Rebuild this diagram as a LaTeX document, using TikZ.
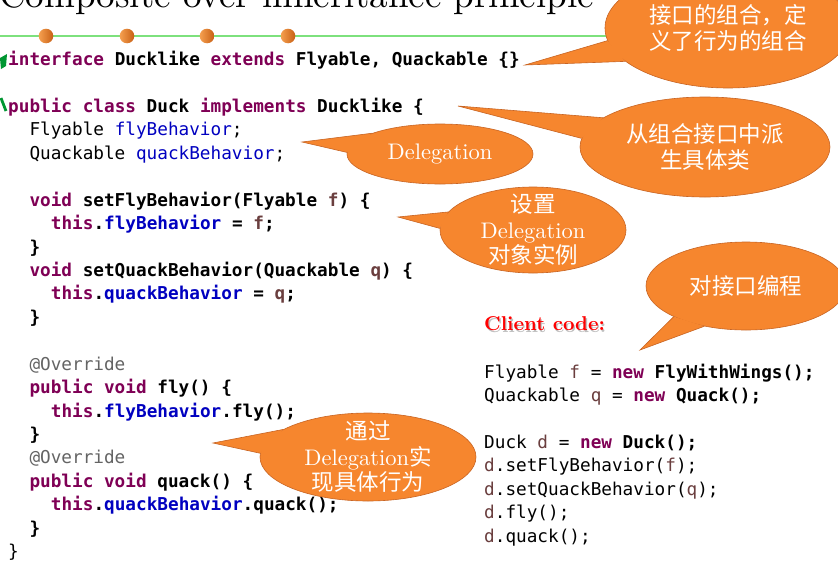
\documentclass[tikz,border=0pt]{standalone}
\usepackage{fontspec}
\usetikzlibrary{shapes.geometric}
\newfontfamily\cjk{Noto Sans CJK SC}
\newfontfamily\lmten{lmroman10-regular.otf}[BoldFont=lmroman10-bold.otf]
\setmonofont{DejaVu Sans Mono}
\definecolor{kw}{RGB}{127,0,85}
\definecolor{fld}{RGB}{0,0,192}
\definecolor{lv}{RGB}{106,62,62}
\definecolor{annc}{RGB}{100,100,100}
\definecolor{bub}{RGB}{246,134,46}
\definecolor{bubline}{RGB}{200,100,35}
\definecolor{grn}{RGB}{125,225,125}
\definecolor{tickgreen}{RGB}{0,150,50}
\definecolor{dotl}{RGB}{245,160,80}
\definecolor{dotd}{RGB}{200,95,20}
\newcommand\jkw[1]{\textcolor{kw}{\bfseries #1}}
\newcommand\jfld[1]{\textcolor{fld}{#1}}
\newcommand\jvar[1]{\textcolor{lv}{#1}}
\newcommand\jann[1]{\textcolor{annc}{#1}}
\tikzset{
  code/.style={anchor=base west, inner sep=0pt, font=\ttfamily\fontsize{17.7}{23.4}\selectfont},
  codeb/.style={anchor=base west, inner sep=0pt, font=\ttfamily\bfseries\fontsize{17.7}{23.4}\selectfont},
  bubble/.style={ellipse, fill=bub, draw=bubline, line width=0.6pt, text=white,
    inner sep=-10pt, align=center, font=\lmten\fontsize{22.5}{25.5}\selectfont},
  wedgeline/.style={draw=bubline, line width=0.6pt},
  dotball/.style={left color=dotl, right color=dotd},
}
\begin{document}
\begin{tikzpicture}[x=1pt,y=-1pt]
\useasboundingbox (0,0) rectangle (838,562);
\fill[white] (0,0) rectangle (838,562);
% title and rule
\node[anchor=base west, inner sep=0pt, font=\lmten\fontsize{37}{40}\selectfont] (title) at (-1,7) {Composite over inheritance principle};
\draw[grn, line width=1.5pt] (0,36) -- (620,36);
\foreach \x in {46,127,207,288} \shade[dotball] (\x,36) circle[radius=7.3pt];
% green marks
\fill[tickgreen] (0,58) -- (7,54) -- (6,66) -- (1,69) -- cycle;
\draw[tickgreen, line width=2.8pt] (1,98) -- (6,111);
% code
\node[codeb] (l0) at (8,65.5) {\jkw{interface} Ducklike \jkw{extends} Flyable, Quackable \{\}};
\node[codeb] (l2) at (8,112.4) {\jkw{public} \jkw{class} Duck \jkw{implements} Ducklike \{};
\node[code] (l3) at (29.3,135.8) {Flyable \jfld{flyBehavior};};
\node[code] (l4) at (29.3,159.2) {Quackable \jfld{quackBehavior};};
\node[codeb] (l6) at (29.3,206.1) {\jkw{void} setFlyBehavior(Flyable \jvar{f}) \{};
\node[codeb] (l7) at (50.7,229.5) {\jkw{this}.\jfld{flyBehavior} = \jvar{f};};
\node[codeb] (l8) at (29.3,253.0) {\}};
\node[codeb] (l9) at (29.3,276.4) {\jkw{void} setQuackBehavior(Quackable \jvar{q}) \{};
\node[codeb] (l10) at (50.7,299.8) {\jkw{this}.\jfld{quackBehavior} = \jvar{q};};
\node[codeb] (l11) at (29.3,323.2) {\}};
\node[code] (l13) at (29.3,370.1) {\jann{@Override}};
\node[codeb] (l14) at (29.3,393.5) {\jkw{public} \jkw{void} fly() \{};
\node[codeb] (l15) at (50.7,417.0) {\jkw{this}.\jfld{flyBehavior}.fly();};
\node[codeb] (l16) at (29.3,440.4) {\}};
\node[code] (l17) at (29.3,463.8) {\jann{@Override}};
\node[codeb] (l18) at (29.3,487.2) {\jkw{public} \jkw{void} quack() \{};
\node[codeb] (l19) at (50.7,510.7) {\jkw{this}.\jfld{quackBehavior}.quack();};
\node[codeb] (l20) at (29.3,534.1) {\}};
\node[code] (l21) at (8,557.5) {\}};
% client code
\node[anchor=base west, inner sep=0pt, text=black, opacity=0.25, font=\lmten\bfseries\fontsize{20}{24}\selectfont] (ccs) at (485.3,332) {Client code:};
\node[anchor=base west, inner sep=0pt, text=red, font=\lmten\bfseries\fontsize{20}{24}\selectfont] (cc) at (484,330.7) {Client code:};
\node[code] (c0) at (484,378.3) {Flyable \jvar{f} = \jkw{new} \textbf{FlyWithWings();}};
\node[code] (c1) at (484,401.7) {Quackable \jvar{q} = \jkw{new} \textbf{Quack();}};
\node[code] (c3) at (484,448.5) {Duck \jvar{d} = \jkw{new} \textbf{Duck();}};
\node[code] (c4) at (484,471.9) {\jvar{d}.setFlyBehavior(\jvar{f});};
\node[code] (c5) at (484,495.3) {\jvar{d}.setQuackBehavior(\jvar{q});};
\node[code] (c6) at (484,518.7) {\jvar{d}.fly();};
\node[code] (c7) at (484,542.1) {\jvar{d}.quack();};
% callouts
\node[bubble, minimum width=246pt, minimum height=120pt] (b1) at (728,28) {\cjk 接口的组合，定\\\cjk 义了行为的组合};
\coordinate (t1) at (525,65);
\fill[bub] (t1) -- (b1.186) -- (b1.198) -- cycle;
\draw[wedgeline] (b1.186) -- (t1) -- (b1.198);

\node[bubble, minimum width=250pt, minimum height=100pt] (b2) at (705,147) {\cjk 从组合接口中派\\\cjk 生具体类};
\coordinate (t2) at (458,106);
\fill[bub] (t2) -- (b2.164) -- (b2.176) -- cycle;
\draw[wedgeline] (b2.164) -- (t2) -- (b2.176);

\node[bubble, minimum width=186pt, minimum height=60pt] (b3) at (440,154) {Delegation};
\coordinate (t3) at (302,142);
\fill[bub] (t3) -- (b3.163) -- (b3.179) -- cycle;
\draw[wedgeline] (b3.163) -- (t3) -- (b3.179);

\node[bubble, minimum width=186pt, minimum height=86pt] (b4) at (533,230) {\cjk 设置\\Delegation\\\cjk 对象实例};
\coordinate (t4) at (398,217);
\fill[bub] (t4) -- (b4.168) -- (b4.179) -- cycle;
\draw[wedgeline] (b4.168) -- (t4) -- (b4.179);

\node[bubble, minimum width=200pt, minimum height=88pt] (b5) at (746,286) {\cjk 对接口编程};
\coordinate (t5) at (640,350);
\fill[bub] (t5) -- (b5.203) -- (b5.224) -- cycle;
\draw[wedgeline] (b5.203) -- (t5) -- (b5.224);

\node[bubble, minimum width=216pt, minimum height=88pt] (b6) at (368,457) {\cjk 通过\\Delegation{\cjk 实}\\\cjk 现具体行为};
\coordinate (t6) at (213,443);
\fill[bub] (t6) -- (b6.162) -- (b6.178) -- cycle;
\draw[wedgeline] (b6.162) -- (t6) -- (b6.178);
\end{tikzpicture}
\end{document}
